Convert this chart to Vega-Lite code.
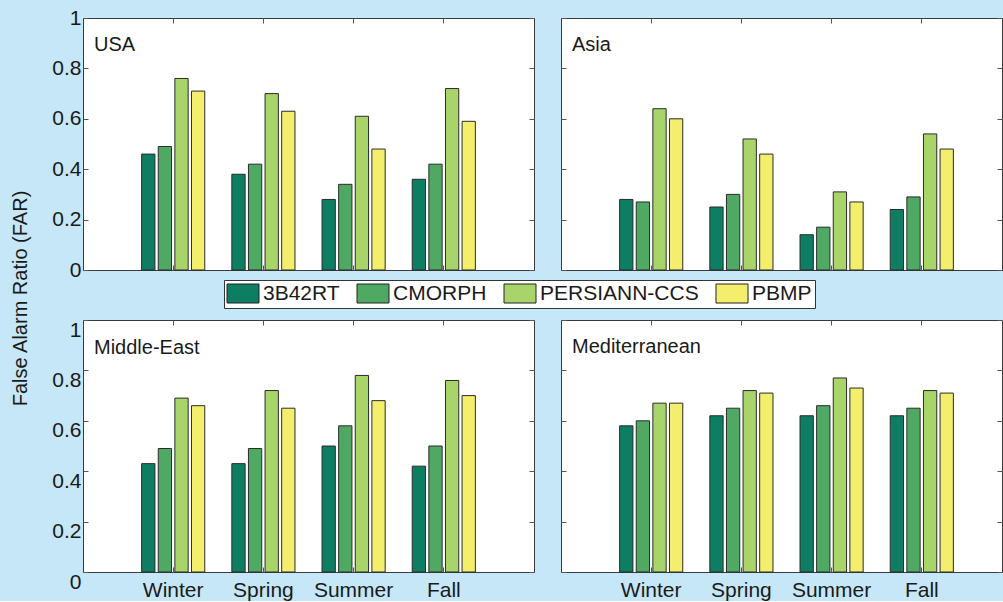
{
  "$schema": "https://vega.github.io/schema/vega-lite/v6.json",
  "background": "#c5e7f7",
  "padding": {"left": 9, "top": 6, "right": 0, "bottom": 0},
  "datasets": {
    "far": [
      {"region": "USA", "season": "Winter", "product": "3B42RT", "far": 0.46},
      {"region": "USA", "season": "Winter", "product": "CMORPH", "far": 0.49},
      {"region": "USA", "season": "Winter", "product": "PERSIANN-CCS", "far": 0.76},
      {"region": "USA", "season": "Winter", "product": "PBMP", "far": 0.71},
      {"region": "USA", "season": "Spring", "product": "3B42RT", "far": 0.38},
      {"region": "USA", "season": "Spring", "product": "CMORPH", "far": 0.42},
      {"region": "USA", "season": "Spring", "product": "PERSIANN-CCS", "far": 0.70},
      {"region": "USA", "season": "Spring", "product": "PBMP", "far": 0.63},
      {"region": "USA", "season": "Summer", "product": "3B42RT", "far": 0.28},
      {"region": "USA", "season": "Summer", "product": "CMORPH", "far": 0.34},
      {"region": "USA", "season": "Summer", "product": "PERSIANN-CCS", "far": 0.61},
      {"region": "USA", "season": "Summer", "product": "PBMP", "far": 0.48},
      {"region": "USA", "season": "Fall", "product": "3B42RT", "far": 0.36},
      {"region": "USA", "season": "Fall", "product": "CMORPH", "far": 0.42},
      {"region": "USA", "season": "Fall", "product": "PERSIANN-CCS", "far": 0.72},
      {"region": "USA", "season": "Fall", "product": "PBMP", "far": 0.59},
      {"region": "Asia", "season": "Winter", "product": "3B42RT", "far": 0.28},
      {"region": "Asia", "season": "Winter", "product": "CMORPH", "far": 0.27},
      {"region": "Asia", "season": "Winter", "product": "PERSIANN-CCS", "far": 0.64},
      {"region": "Asia", "season": "Winter", "product": "PBMP", "far": 0.60},
      {"region": "Asia", "season": "Spring", "product": "3B42RT", "far": 0.25},
      {"region": "Asia", "season": "Spring", "product": "CMORPH", "far": 0.30},
      {"region": "Asia", "season": "Spring", "product": "PERSIANN-CCS", "far": 0.52},
      {"region": "Asia", "season": "Spring", "product": "PBMP", "far": 0.46},
      {"region": "Asia", "season": "Summer", "product": "3B42RT", "far": 0.14},
      {"region": "Asia", "season": "Summer", "product": "CMORPH", "far": 0.17},
      {"region": "Asia", "season": "Summer", "product": "PERSIANN-CCS", "far": 0.31},
      {"region": "Asia", "season": "Summer", "product": "PBMP", "far": 0.27},
      {"region": "Asia", "season": "Fall", "product": "3B42RT", "far": 0.24},
      {"region": "Asia", "season": "Fall", "product": "CMORPH", "far": 0.29},
      {"region": "Asia", "season": "Fall", "product": "PERSIANN-CCS", "far": 0.54},
      {"region": "Asia", "season": "Fall", "product": "PBMP", "far": 0.48},
      {"region": "Middle-East", "season": "Winter", "product": "3B42RT", "far": 0.43},
      {"region": "Middle-East", "season": "Winter", "product": "CMORPH", "far": 0.49},
      {"region": "Middle-East", "season": "Winter", "product": "PERSIANN-CCS", "far": 0.69},
      {"region": "Middle-East", "season": "Winter", "product": "PBMP", "far": 0.66},
      {"region": "Middle-East", "season": "Spring", "product": "3B42RT", "far": 0.43},
      {"region": "Middle-East", "season": "Spring", "product": "CMORPH", "far": 0.49},
      {"region": "Middle-East", "season": "Spring", "product": "PERSIANN-CCS", "far": 0.72},
      {"region": "Middle-East", "season": "Spring", "product": "PBMP", "far": 0.65},
      {"region": "Middle-East", "season": "Summer", "product": "3B42RT", "far": 0.50},
      {"region": "Middle-East", "season": "Summer", "product": "CMORPH", "far": 0.58},
      {"region": "Middle-East", "season": "Summer", "product": "PERSIANN-CCS", "far": 0.78},
      {"region": "Middle-East", "season": "Summer", "product": "PBMP", "far": 0.68},
      {"region": "Middle-East", "season": "Fall", "product": "3B42RT", "far": 0.42},
      {"region": "Middle-East", "season": "Fall", "product": "CMORPH", "far": 0.50},
      {"region": "Middle-East", "season": "Fall", "product": "PERSIANN-CCS", "far": 0.76},
      {"region": "Middle-East", "season": "Fall", "product": "PBMP", "far": 0.70},
      {"region": "Mediterranean", "season": "Winter", "product": "3B42RT", "far": 0.58},
      {"region": "Mediterranean", "season": "Winter", "product": "CMORPH", "far": 0.60},
      {"region": "Mediterranean", "season": "Winter", "product": "PERSIANN-CCS", "far": 0.67},
      {"region": "Mediterranean", "season": "Winter", "product": "PBMP", "far": 0.67},
      {"region": "Mediterranean", "season": "Spring", "product": "3B42RT", "far": 0.62},
      {"region": "Mediterranean", "season": "Spring", "product": "CMORPH", "far": 0.65},
      {"region": "Mediterranean", "season": "Spring", "product": "PERSIANN-CCS", "far": 0.72},
      {"region": "Mediterranean", "season": "Spring", "product": "PBMP", "far": 0.71},
      {"region": "Mediterranean", "season": "Summer", "product": "3B42RT", "far": 0.62},
      {"region": "Mediterranean", "season": "Summer", "product": "CMORPH", "far": 0.66},
      {"region": "Mediterranean", "season": "Summer", "product": "PERSIANN-CCS", "far": 0.77},
      {"region": "Mediterranean", "season": "Summer", "product": "PBMP", "far": 0.73},
      {"region": "Mediterranean", "season": "Fall", "product": "3B42RT", "far": 0.62},
      {"region": "Mediterranean", "season": "Fall", "product": "CMORPH", "far": 0.65},
      {"region": "Mediterranean", "season": "Fall", "product": "PERSIANN-CCS", "far": 0.72},
      {"region": "Mediterranean", "season": "Fall", "product": "PBMP", "far": 0.71}
    ]
  },
  "data": {"name": "far"},
  "config": {
    "font": "Liberation Sans",
    "view": {"stroke": "#3a3a3a", "strokeWidth": 1, "fill": "white"},
    "axis": {"domain": false, "grid": false, "ticks": true, "tickSize": -5, "tickColor": "#555555", "labelFontSize": 21, "labelColor": "#1a1a1a", "labelFont": "Liberation Sans", "labelPadding": 7},
    "title": {"font": "Liberation Sans", "fontSize": 20, "fontWeight": "normal", "color": "#1a1a1a", "anchor": "start", "frame": "group", "baseline": "alphabetic", "dx": 11},
    "legend": {
      "orient": "none", "legendX": 141, "legendY": 262, "direction": "horizontal",
      "symbolType": "M-1.05,-0.95H2.15V0.95H-1.05Z", "symbolSize": 400, "symbolStrokeColor": "#222222", "symbolStrokeWidth": 1, "symbolOpacity": 1,
      "labelFontSize": 21, "labelFont": "Liberation Sans", "labelColor": "#1a1a1a", "labelOffset": 15, "columnPadding": 15,
      "fillColor": "white", "strokeColor": "#333333", "padding": 3
    }
  },
  "columns": 2,
  "spacing": {"row": 50, "column": 27},
  "bounds": "flush",
  "align": "each",
  "concat": [
    {
      "width": 451, "height": 252,
      "title": {"text": "USA", "offset": -48},
      "transform": [{"filter": "datum.region === 'USA'"}],
      "layer": [
        {
          "mark": {"type": "bar", "stroke": "#2b2b2b", "strokeWidth": 1},
          "encoding": {
            "x": {"field": "season", "type": "nominal", "sort": ["Winter", "Spring", "Summer", "Fall"], "scale": {"paddingInner": 0.3, "paddingOuter": 0.65}, "axis": {"orient": "bottom", "title": null, "labels": false}},
            "xOffset": {"field": "product", "type": "nominal", "sort": ["3B42RT", "CMORPH", "PERSIANN-CCS", "PBMP"], "scale": {"paddingInner": 0.2}},
            "y": {"field": "far", "type": "quantitative", "scale": {"domain": [0, 1], "nice": false}, "axis": {"orient": "left", "values": [0, 0.2, 0.4, 0.6, 0.8, 1], "format": "~g", "title": "False Alarm Ratio (FAR)", "titleX": -63, "titleY": 280, "titleAngle": -90, "titleBaseline": "middle", "titleAlign": "center", "titleFontSize": 20, "titleFontWeight": "normal", "titleColor": "#1a1a1a", "titleFont": "Liberation Sans"}},
            "color": {"field": "product", "type": "nominal", "sort": ["3B42RT", "CMORPH", "PERSIANN-CCS", "PBMP"], "scale": {"domain": ["3B42RT", "CMORPH", "PERSIANN-CCS", "PBMP"], "range": ["#0d7e62", "#4fa963", "#a9d469", "#f3ee6b"]}, "legend": {"title": null}}
          }
        },
        {
          "mark": {"type": "bar", "opacity": 0},
          "encoding": {
            "x": {"field": "season", "type": "nominal", "sort": ["Winter", "Spring", "Summer", "Fall"], "axis": {"orient": "top", "title": null, "labels": false}},
            "xOffset": {"field": "product", "type": "nominal", "sort": ["3B42RT", "CMORPH", "PERSIANN-CCS", "PBMP"]},
            "y": {"field": "far", "type": "quantitative", "axis": {"orient": "right", "title": null, "labels": false, "values": [0, 0.2, 0.4, 0.6, 0.8, 1]}}
          }
        }
      ],
      "resolve": {"axis": {"x": "independent", "y": "independent"}}
    },
    {
      "width": 441, "height": 252,
      "title": {"text": "Asia", "offset": -37},
      "transform": [{"filter": "datum.region === 'Asia'"}],
      "layer": [
        {
          "mark": {"type": "bar", "stroke": "#2b2b2b", "strokeWidth": 1},
          "encoding": {
            "x": {"field": "season", "type": "nominal", "sort": ["Winter", "Spring", "Summer", "Fall"], "scale": {"paddingInner": 0.3, "paddingOuter": 0.65, "range": [0, 451]}, "axis": {"orient": "bottom", "title": null, "labels": false}},
            "xOffset": {"field": "product", "type": "nominal", "sort": ["3B42RT", "CMORPH", "PERSIANN-CCS", "PBMP"], "scale": {"paddingInner": 0.2}},
            "y": {"field": "far", "type": "quantitative", "scale": {"domain": [0, 1], "nice": false}, "axis": {"orient": "left", "values": [0, 0.2, 0.4, 0.6, 0.8, 1], "labels": false, "title": null}},
            "color": {"field": "product", "type": "nominal", "sort": ["3B42RT", "CMORPH", "PERSIANN-CCS", "PBMP"], "legend": {"title": null}}
          }
        },
        {
          "mark": {"type": "bar", "opacity": 0},
          "encoding": {
            "x": {"field": "season", "type": "nominal", "sort": ["Winter", "Spring", "Summer", "Fall"], "axis": {"orient": "top", "title": null, "labels": false}},
            "xOffset": {"field": "product", "type": "nominal", "sort": ["3B42RT", "CMORPH", "PERSIANN-CCS", "PBMP"]},
            "y": {"field": "far", "type": "quantitative", "axis": {"orient": "right", "title": null, "labels": false, "values": [0, 0.2, 0.4, 0.6, 0.8, 1]}}
          }
        }
      ],
      "resolve": {"axis": {"x": "independent", "y": "independent"}}
    },
    {
      "width": 451, "height": 252,
      "title": {"text": "Middle-East", "offset": -39},
      "transform": [{"filter": "datum.region === 'Middle-East'"}],
      "layer": [
        {
          "mark": {"type": "bar", "stroke": "#2b2b2b", "strokeWidth": 1},
          "encoding": {
            "x": {"field": "season", "type": "nominal", "sort": ["Winter", "Spring", "Summer", "Fall"], "scale": {"paddingInner": 0.3, "paddingOuter": 0.65}, "axis": {"orient": "bottom", "title": null, "labelAngle": 0, "labelPadding": 12}},
            "xOffset": {"field": "product", "type": "nominal", "sort": ["3B42RT", "CMORPH", "PERSIANN-CCS", "PBMP"], "scale": {"paddingInner": 0.2}},
            "y": {"field": "far", "type": "quantitative", "scale": {"domain": [0, 1], "nice": false}, "axis": {"orient": "left", "values": [0, 0.2, 0.4, 0.6, 0.8, 1], "format": "~g", "title": null, "labelOffset": 10}},
            "color": {"field": "product", "type": "nominal", "sort": ["3B42RT", "CMORPH", "PERSIANN-CCS", "PBMP"], "legend": {"title": null}}
          }
        },
        {
          "mark": {"type": "bar", "opacity": 0},
          "encoding": {
            "x": {"field": "season", "type": "nominal", "sort": ["Winter", "Spring", "Summer", "Fall"], "axis": {"orient": "top", "title": null, "labels": false}},
            "xOffset": {"field": "product", "type": "nominal", "sort": ["3B42RT", "CMORPH", "PERSIANN-CCS", "PBMP"]},
            "y": {"field": "far", "type": "quantitative", "axis": {"orient": "right", "title": null, "labels": false, "values": [0, 0.2, 0.4, 0.6, 0.8, 1]}}
          }
        }
      ],
      "resolve": {"axis": {"x": "independent", "y": "independent"}}
    },
    {
      "width": 441, "height": 252,
      "title": {"text": "Mediterranean", "offset": -37},
      "transform": [{"filter": "datum.region === 'Mediterranean'"}],
      "layer": [
        {
          "mark": {"type": "bar", "stroke": "#2b2b2b", "strokeWidth": 1},
          "encoding": {
            "x": {"field": "season", "type": "nominal", "sort": ["Winter", "Spring", "Summer", "Fall"], "scale": {"paddingInner": 0.3, "paddingOuter": 0.65, "range": [0, 451]}, "axis": {"orient": "bottom", "title": null, "labelAngle": 0, "labelPadding": 12}},
            "xOffset": {"field": "product", "type": "nominal", "sort": ["3B42RT", "CMORPH", "PERSIANN-CCS", "PBMP"], "scale": {"paddingInner": 0.2}},
            "y": {"field": "far", "type": "quantitative", "scale": {"domain": [0, 1], "nice": false}, "axis": {"orient": "left", "values": [0, 0.2, 0.4, 0.6, 0.8, 1], "labels": false, "title": null}},
            "color": {"field": "product", "type": "nominal", "sort": ["3B42RT", "CMORPH", "PERSIANN-CCS", "PBMP"], "legend": {"title": null}}
          }
        },
        {
          "mark": {"type": "bar", "opacity": 0},
          "encoding": {
            "x": {"field": "season", "type": "nominal", "sort": ["Winter", "Spring", "Summer", "Fall"], "axis": {"orient": "top", "title": null, "labels": false}},
            "xOffset": {"field": "product", "type": "nominal", "sort": ["3B42RT", "CMORPH", "PERSIANN-CCS", "PBMP"]},
            "y": {"field": "far", "type": "quantitative", "axis": {"orient": "right", "title": null, "labels": false, "values": [0, 0.2, 0.4, 0.6, 0.8, 1]}}
          }
        }
      ],
      "resolve": {"axis": {"x": "independent", "y": "independent"}}
    }
  ]
}
